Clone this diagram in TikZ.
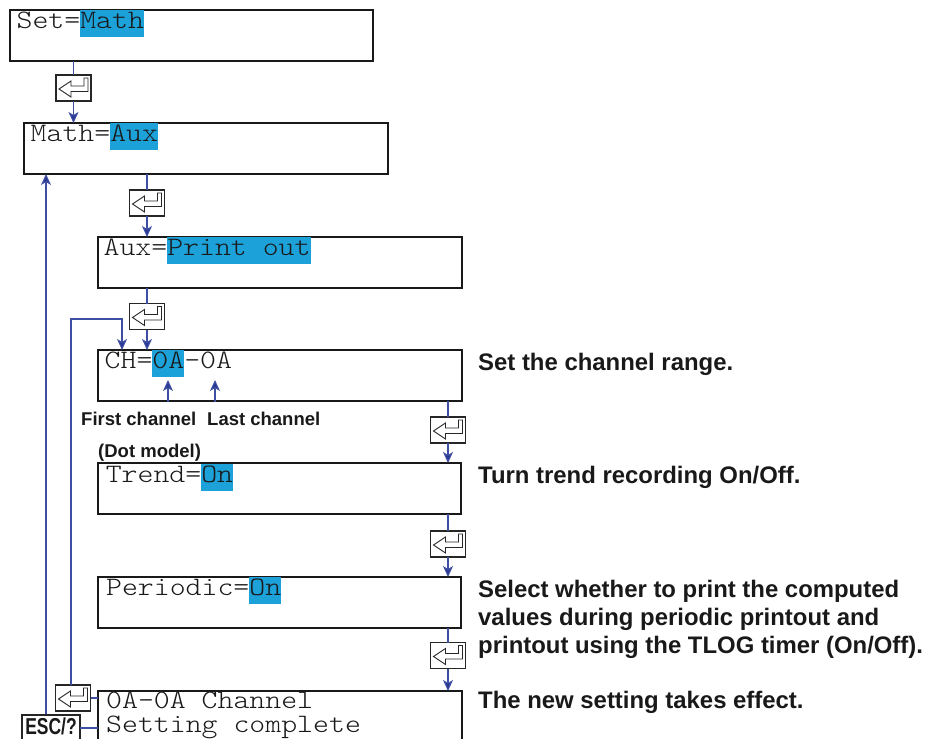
\documentclass[tikz,border=0pt]{standalone}
\usepackage{fontspec}
\usepackage{graphicx}
\usetikzlibrary{arrows.meta}
\newfontfamily\lcdfont{lmmonolt10-regular.otf}[FakeStretch=1.14]
\newfontfamily\labfont{Liberation Sans}
\definecolor{hlc}{RGB}{29,161,217}
\definecolor{conn}{RGB}{62,78,162}
\definecolor{tipc}{RGB}{40,55,145}
\newcommand\hl[1]{{\setlength\fboxsep{0pt}\colorbox{hlc}{\rule[-8.5pt]{0pt}{27pt}#1}}}
\begin{document}
\begin{tikzpicture}[x=1pt,y=-1pt,
  lcd/.style={draw=black!90, line width=1.8pt, anchor=north west, inner sep=0pt, outer sep=0pt},
  lcdtext/.style={anchor=base west, inner sep=0pt, text=black!90, font=\lcdfont\fontsize{26.6}{24}\selectfont},
  desc/.style={anchor=base west, inner sep=0pt, text=black!90, font=\labfont\bfseries\fontsize{23.9}{28}\selectfont},
  small/.style={anchor=base west, inner sep=0pt, text=black!90, font=\labfont\bfseries\fontsize{18.5}{22}\selectfont},
  key/.style={draw=black!85, line width=1.1pt, fill=white, minimum width=35pt, minimum height=26pt, inner sep=0pt, outer sep=0pt,
    path picture={\draw[line width=0.9pt, black!85] ([shift={(-14.5pt,-1pt)}]path picture bounding box.center)
      -- ++(12pt,8pt) -- ++(0,-5pt) -- ++(13pt,0) -- ++(0,8pt) -- ++(4pt,0) -- ++(0,-13.5pt) -- ++(-17pt,0) -- ++(0,-5.5pt) -- cycle;}},
  cline/.style={draw=conn, line width=1.1pt},
  carrow/.style={draw=conn, line width=1.1pt, -{Stealth[length=11pt,width=10pt,inset=3pt,fill=tipc]}}
]
\clip (0,0) rectangle (933,738);
\fill[white] (0,0) rectangle (933,738);

% LCD boxes
\node[lcd, minimum width=363pt, minimum height=51pt] (b1) at (10,10) {};
\node[lcd, minimum width=364pt, minimum height=51pt] (b2) at (24,123) {};
\node[lcd, minimum width=364pt, minimum height=51pt] (b3) at (98,237) {};
\node[lcd, minimum width=364pt, minimum height=51pt] (b4) at (98,350) {};
\node[lcd, minimum width=363pt, minimum height=51pt] (b5) at (98,463) {};
\node[lcd, minimum width=363pt, minimum height=51pt] (b6) at (98,577) {};
\node[lcd, minimum width=364pt, minimum height=70pt] (b7) at (98,691) {};

% LCD texts
\node[lcdtext] (t1) at (16.4,28.5) {Set=\hl{Math}};
\node[lcdtext] (t2) at (30.5,141.5) {Math=\hl{Aux}};
\node[lcdtext] (t3) at (103.4,255.5) {Aux=\hl{Print out}};
\node[lcdtext] (t4) at (104.5,368.5) {CH=\hl{0A}-0A};
\node[lcdtext] (t5) at (105.6,482.5) {Trend=\hl{On}};
\node[lcdtext] (t6) at (105.9,595.5) {Periodic=\hl{On}};
\node[lcdtext] (t7a) at (106,708) {0A-0A Channel};
\node[lcdtext] (t7b) at (106,732) {Setting complete};

% enter keys
\node[key] (e1) at (73.5,88) {};
\node[key] (e2) at (147,203) {};
\node[key] (e3) at (147,316.5) {};
\node[key] (e4) at (448,430) {};
\node[key] (e5) at (448,544) {};
\node[key] (e6) at (448,655.5) {};
\node[key] (e7) at (73,698) {};

% ESC key
\node[draw=black!85, line width=1.1pt, fill=white, minimum width=58pt, minimum height=45pt, inner sep=0pt] (escb) at (51,737.5) {};
\node[anchor=base, inner sep=0pt, text=black!90, font=\labfont\bfseries\fontsize{23}{23}\selectfont] (esct) at (51,734) {\scalebox{0.76}[1]{ESC/?}};

% labels
\node[small] (fc) at (81,425) {First channel};
\node[small] (lc) at (207,425) {Last channel};
\node[small] (dm) at (98,457) {(Dot model)};

% descriptions
\node[desc] (r1) at (478,370) {Set the channel range.};
\node[desc] (r2) at (478,483) {Turn trend recording On/Off.};
\node[desc] (r3a) at (478,597) {Select whether to print the computed};
\node[desc] (r3b) at (478,625) {values during periodic printout and};
\node[desc] (r3c) at (478,653) {printout using the TLOG timer (On/Off).};
\node[desc] (r4) at (478,708) {The new setting takes effect.};

% main flow
\draw[cline] (b1.south -| e1) -- (e1.north);
\draw[carrow] (e1.south) -- (e1.south |- b2.north);
\draw[cline] (b2.south -| e2) -- (e2.north);
\draw[carrow] (e2.south) -- (e2.south |- b3.north);
\draw[cline] (b3.south -| e3) -- (e3.north);
\draw[carrow] (e3.south) -- (e3.south |- b4.north);
\draw[cline] (b4.south -| e4) -- (e4.north);
\draw[carrow] (e4.south) -- (e4.south |- b5.north);
\draw[cline] (b5.south -| e5) -- (e5.north);
\draw[carrow] (e5.south) -- (e5.south |- b6.north);
\draw[cline] (b6.south -| e6) -- (e6.north);
\draw[carrow] (e6.south) -- (e6.south |- b7.north);

% loop back from completion enter key to CH
\coordinate (lpc) at (122,319);
\draw[carrow] ([xshift=-2pt]e7.north) |- (lpc) -- (lpc |- b4.north);
\draw[cline] (e7.east) -- (e7.east -| b7.west);

% ESC back to Math=Aux
\draw[carrow] ([xshift=-5pt]escb.north) -- ([xshift=-5pt]escb.north |- b2.south);
\coordinate (escr) at (80,728);
\draw[cline] (escr) -- (escr -| b7.west);

% channel pointers
\coordinate (fa) at (168,402);
\coordinate (la) at (215,402);
\draw[carrow] (fa) -- ++(0,-22);
\draw[carrow] (la) -- ++(0,-22);
\end{tikzpicture}
\end{document}
